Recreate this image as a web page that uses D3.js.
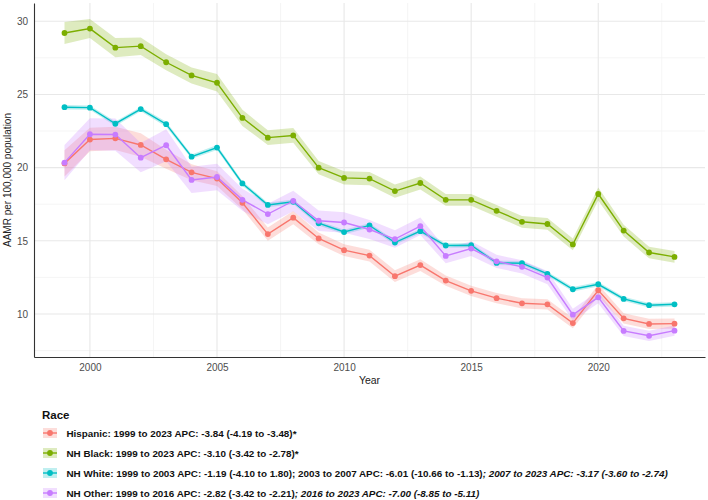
<!DOCTYPE html>
<html><head><meta charset="utf-8">
<script src="https://cdn.jsdelivr.net/npm/d3@7"></script>
<style>
body{margin:0;background:#fff;}
text{font-family:"Liberation Sans",Arial,sans-serif;}
</style></head>
<body><svg id="chart" width="708" height="500"></svg>
<script>
const years = d3.range(1999, 2024);
const seriesNames = ["Hispanic", "NH Black", "NH White", "NH Other"];
const colors = ["#F8766D", "#7CAE00", "#00BFC4", "#C77CFF"];

const hispanic = [20.29,21.92,22.0,21.55,20.57,19.68,19.25,17.6,15.46,16.58,15.16,14.36,13.99,12.58,13.34,12.28,11.58,11.08,10.73,10.66,9.38,11.62,9.7,9.32,9.34];
const hispanicLo = [19.39,21.12,21.2,20.75,19.92,19.13,18.75,17.15,15.01,16.13,14.76,13.96,13.59,12.18,12.94,11.93,11.23,10.73,10.38,10.31,9.03,11.22,9.35,8.97,8.99];
const hispanicHi = [21.19,22.72,22.8,22.35,21.22,20.23,19.75,18.05,15.91,17.03,15.56,14.76,14.39,12.98,13.74,12.63,11.93,11.43,11.08,11.01,9.73,12.02,10.05,9.67,9.69];

const black = [29.2,29.5,28.2,28.3,27.2,26.3,25.8,23.4,22.05,22.2,20.0,19.3,19.25,18.4,18.95,17.8,17.8,17.05,16.3,16.15,14.75,18.2,15.7,14.2,13.9];
const blackLo = [28.45,28.85,27.55,27.7,26.65,25.75,25.2,22.85,21.55,21.7,19.55,18.85,18.8,17.95,18.5,17.4,17.4,16.65,15.9,15.75,14.35,17.75,15.3,13.8,13.5];
const blackHi = [29.95,30.15,28.85,28.9,27.75,26.85,26.4,23.95,22.55,22.7,20.45,19.75,19.7,18.85,19.4,18.2,18.2,17.45,16.7,16.55,15.15,18.65,16.1,14.6,14.3];

const white = [24.13,24.1,23.0,24.0,22.97,20.75,21.37,18.92,17.45,17.67,16.2,15.6,16.05,14.88,15.66,14.68,14.7,13.49,13.47,12.74,11.69,12.03,11.03,10.6,10.66];
const whiteLo = [23.98,23.95,22.85,23.85,22.8,20.6,21.2,18.77,17.3,17.52,16.05,15.45,15.9,14.73,15.51,14.53,14.55,13.34,13.32,12.59,11.54,11.88,10.88,10.45,10.51];
const whiteHi = [24.28,24.25,23.15,24.15,23.14,20.9,21.54,19.07,17.6,17.82,16.35,15.75,16.2,15.03,15.81,14.83,14.85,13.64,13.62,12.89,11.84,12.18,11.18,10.75,10.81];

const other = [20.34,22.28,22.26,20.68,21.53,19.16,19.36,17.8,16.83,17.72,16.37,16.25,15.77,15.12,16.0,13.97,14.47,13.6,13.22,12.49,9.95,11.14,8.84,8.51,8.86];
const otherLo = [19.14,21.18,21.16,19.68,20.43,18.26,18.46,17.05,16.13,17.02,15.67,15.55,15.12,14.52,15.4,13.47,13.97,13.15,12.77,12.04,9.55,10.74,8.49,8.16,8.51];
const otherHi = [21.54,23.38,23.36,21.68,22.63,20.06,20.26,18.55,17.53,18.42,17.07,16.95,16.42,15.72,16.6,14.47,14.97,14.05,13.67,12.94,10.35,11.54,9.19,8.86,9.21];

const yTicks = [10, 15, 20, 25, 30];
const yMinor = [7.5, 12.5, 17.5, 22.5, 27.5];
const xTicks = [2000, 2005, 2010, 2015, 2020];
const xMinor = [2002.5, 2007.5, 2012.5, 2017.5, 2022.5];

const legendTitle = "Race";
const legendLabels = [
  [["Hispanic: 1999 to 2023 APC: -3.84 (-4.19 to -3.48)*", false]],
  [["NH Black: 1999 to 2023 APC: -3.10 (-3.42 to -2.78)*", false]],
  [["NH White: 1999 to 2003 APC: -1.19 (-4.10 to 1.80); 2003 to 2007 APC: -6.01 (-10.66 to -1.13)", false], ["; 2007 to 2023 APC: -3.17 (-3.60 to -2.74)", true]],
  [["NH Other: 1999 to 2016 APC: -2.82 (-3.42 to -2.21)", false], ["; 2016 to 2023 APC: -7.00 (-8.85 to -5.11)", true]]
];

const series = [
  {v: hispanic, lo: hispanicLo, hi: hispanicHi},
  {v: black, lo: blackLo, hi: blackHi},
  {v: white, lo: whiteLo, hi: whiteHi},
  {v: other, lo: otherLo, hi: otherHi}
].map((s, i) => ({name: seriesNames[i], color: colors[i],
  pts: years.map((y, j) => ({year: y, v: s.v[j], lo: s.lo[j], hi: s.hi[j]}))}));

const svg = d3.select("#chart");
const P = {left: 34, right: 705, top: 3, bottom: 357};

const xr = d3.extent(years), xpad = (xr[1] - xr[0]) * 0.05;
const x = d3.scaleLinear().domain([xr[0] - xpad, xr[1] + xpad]).range([P.left, P.right]);
const allLo = d3.min(series, s => d3.min(s.pts, d => d.lo));
const allHi = d3.max(series, s => d3.max(s.pts, d => d.hi));
const ypad = (allHi - allLo) * 0.05;
const y = d3.scaleLinear().domain([allLo - ypad, allHi + ypad]).range([P.bottom, P.top]);

const g = svg.append("g");
// minor grid
g.selectAll(".ymin").data(yMinor).join("line")
  .attr("x1", P.left).attr("x2", P.right).attr("y1", d => y(d)).attr("y2", d => y(d))
  .attr("stroke", "#f3f3f3").attr("stroke-width", 0.8);
g.selectAll(".xmin").data(xMinor).join("line")
  .attr("y1", P.top).attr("y2", P.bottom).attr("x1", d => x(d)).attr("x2", d => x(d))
  .attr("stroke", "#f3f3f3").attr("stroke-width", 0.8);
// major grid
g.selectAll(".ymaj").data(yTicks).join("line")
  .attr("x1", P.left).attr("x2", P.right).attr("y1", d => y(d)).attr("y2", d => y(d))
  .attr("stroke", "#e8e8e8").attr("stroke-width", 1.1);
g.selectAll(".xmaj").data(xTicks).join("line")
  .attr("y1", P.top).attr("y2", P.bottom).attr("x1", d => x(d)).attr("x2", d => x(d))
  .attr("stroke", "#e8e8e8").attr("stroke-width", 1.1);

// ribbons
const area = d3.area().x(d => x(d.year)).y0(d => y(d.lo)).y1(d => y(d.hi));
series.forEach(s => {
  g.append("path").datum(s.pts).attr("d", area).attr("fill", s.color).attr("fill-opacity", 0.25);
});
// lines
const line = d3.line().x(d => x(d.year)).y(d => y(d.v));
series.forEach(s => {
  g.append("path").datum(s.pts).attr("d", line).attr("fill", "none")
    .attr("stroke", s.color).attr("stroke-width", 1.4);
});
// points
series.forEach(s => {
  g.selectAll(null).data(s.pts).join("circle")
    .attr("cx", d => x(d.year)).attr("cy", d => y(d.v)).attr("r", 2.9).attr("fill", s.color);
});

// axes
const yAxis = d3.axisLeft(y).tickValues(yTicks).tickSize(0).tickPadding(6);
const ya = svg.append("g").attr("transform", `translate(${P.left},0)`).call(yAxis);
ya.select(".domain").attr("stroke", "#333").attr("stroke-width", 1.1);
ya.selectAll("text").attr("fill", "#4d4d4d").attr("font-size", 10);
const xAxis = d3.axisBottom(x).tickValues(xTicks).tickFormat(d3.format("d")).tickSize(0).tickPadding(7);
const xa = svg.append("g").attr("transform", `translate(0,${P.bottom})`).call(xAxis);
xa.select(".domain").attr("stroke", "#333").attr("stroke-width", 1.1);
xa.selectAll("text").attr("fill", "#4d4d4d").attr("font-size", 10);

svg.append("text").attr("x", (P.left + P.right) / 2).attr("y", 384)
  .attr("text-anchor", "middle").attr("font-size", 10.5).attr("fill", "#222").text("Year");
svg.append("text").attr("transform", `translate(11,${(P.top + P.bottom) / 2}) rotate(-90)`)
  .attr("text-anchor", "middle").attr("font-size", 10).attr("fill", "#222")
  .text("AAMR per 100,000 population");

// legend
svg.append("text").attr("x", 42).attr("y", 419).attr("font-size", 11.5)
  .attr("font-weight", "bold").attr("fill", "#111").text(legendTitle);
series.forEach((s, i) => {
  const cy = 433 + i * 20;
  svg.append("rect").attr("x", 43).attr("y", cy - 5).attr("width", 14).attr("height", 10)
    .attr("fill", s.color).attr("fill-opacity", 0.25);
  svg.append("line").attr("x1", 43).attr("x2", 57).attr("y1", cy).attr("y2", cy)
    .attr("stroke", s.color).attr("stroke-width", 1.4);
  svg.append("circle").attr("cx", 50).attr("cy", cy).attr("r", 2.9).attr("fill", s.color);
  const t = svg.append("text").attr("x", 66.5).attr("y", cy + 3.5).attr("font-size", 9.85)
    .attr("font-weight", "bold").attr("fill", "#111");
  legendLabels[i].forEach(([txt, it]) => {
    t.append("tspan").attr("font-style", it ? "italic" : "normal").text(txt);
  });
});
</script></body></html>
